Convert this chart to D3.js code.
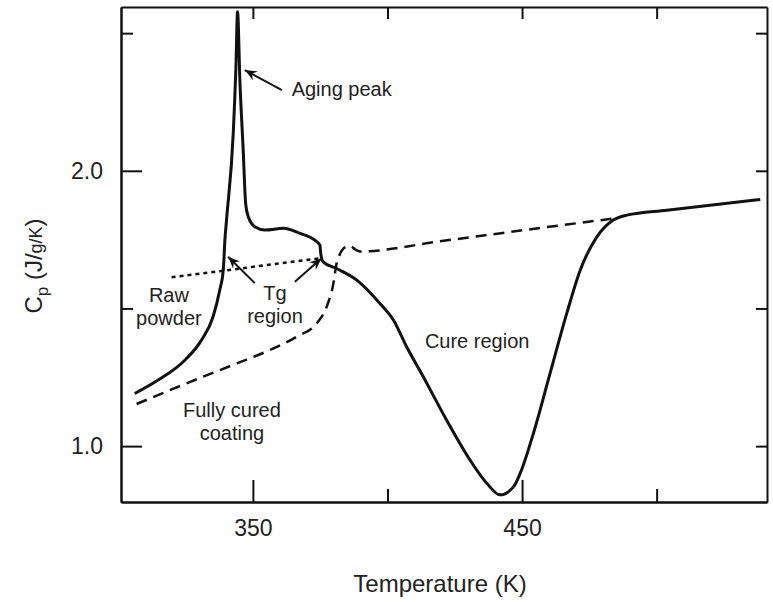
<!DOCTYPE html>
<html>
<head>
<meta charset="utf-8">
<script src="https://cdn.jsdelivr.net/npm/d3@7"></script>
<style>
  body { margin: 0; background: #fff; }
  text { font-family: "Liberation Sans", Arial, Helvetica, sans-serif; fill: #222; }
</style>
</head>
<body>
<svg id="chart" width="773" height="602"></svg>
<script>
// Heat capacity scan of a powder coating: raw powder vs. fully cured film
const rawT  = [306.1, 314.8, 324.7, 330.9, 335.2, 337.7, 339.0, 339.6, 340.2, 342.7, 343.7, 344.3,
               345.2, 346.4, 347.3, 348.3, 350.7, 354.5, 361.3, 367.5, 373.0, 374.9, 375.2, 376.1,
               381.1, 388.6, 397.2, 402.2, 407.1, 413.3, 422.0, 430.7, 436.9, 441.8, 446.8, 449.3,
               454.2, 460.4, 466.6, 471.6, 477.8, 483.9, 488.9, 503.8, 538.5];
const rawCp = [1.191, 1.240, 1.312, 1.385, 1.470, 1.567, 1.639, 1.748, 1.821, 2.137, 2.378, 2.578,
               2.319, 2.075, 1.883, 1.833, 1.797, 1.785, 1.791, 1.773, 1.748, 1.730, 1.700, 1.669,
               1.645, 1.603, 1.518, 1.458, 1.361, 1.252, 1.094, 0.949, 0.865, 0.823, 0.852, 0.901,
               1.046, 1.264, 1.482, 1.639, 1.760, 1.821, 1.839, 1.857, 1.896];

const curedT  = [306.8, 319.1, 331.5, 343.9, 356.3, 366.2, 373.7, 377.4, 379.9, 381.1, 382.3, 384.2,
                 386.1, 387.9, 389.8, 419.5, 451.7, 483.5];
const curedCp = [1.153, 1.203, 1.252, 1.300, 1.349, 1.397, 1.446, 1.506, 1.591, 1.664, 1.697, 1.722,
                 1.727, 1.715, 1.707, 1.744, 1.786, 1.826];

// Glassy baseline extrapolated through the Tg region of the raw powder
const glassT  = [319.8, 375.3];
const glassCp = [1.613, 1.683];

const xMajorTicks = [350, 450];
const xMinorTicks = [400, 500];
const yMajorTicks = [1.0, 2.0];
const yMinorTicks = [1.5, 2.5];

const xTitle = "Temperature (K)";

// Annotations: text lines, T and Cp of the first baseline, anchor
const notes = [
  { lines: ["Aging peak"], T: 364.4, cp: 2.271, anchor: "start" },
  { lines: ["Raw", "powder"], T: 318.8, cp: 1.524, anchor: "middle" },
  { lines: ["Tg", "region"], T: 358.2, cp: 1.530, anchor: "middle" },
  { lines: ["Fully cured", "coating"], T: 342.2, cp: 1.106, anchor: "middle" },
  { lines: ["Cure region"], T: 413.9, cp: 1.355, anchor: "start" }
];
// Arrows: from (T, Cp) tail to (T, Cp) tip
const arrows = [
  { from: [360.8, 2.293], to: [347.0, 2.366] },
  { from: [350.7, 1.592], to: [340.8, 1.688] },
  { from: [365.6, 1.597], to: [375.5, 1.682] }
];

const svg = d3.select("#chart");
const pLeft = 121, pRight = 767, pTop = 7, pBottom = 502;

const x = d3.scaleLinear().domain([301, 541]).range([pLeft, pRight]);
const y = d3.scaleLinear().domain([0.797, 2.595]).range([pBottom, pTop]);

// Axes (ticks point inward, frame on all four sides)
function styleAxis(g) {
  g.selectAll("path.domain").attr("stroke", "#111").attr("stroke-width", 2);
  g.selectAll(".tick line").attr("stroke", "#111").attr("stroke-width", 2);
  g.selectAll(".tick text").style("font-size", "23px").attr("fill", "#222")
    .style("font-family", "'Liberation Sans', Arial, Helvetica, sans-serif");
}

svg.append("g").attr("transform", `translate(0,${pBottom})`)
  .call(d3.axisBottom(x).tickValues(xMajorTicks).tickSize(-22).tickSizeOuter(0).tickPadding(18).tickFormat(d3.format("d")))
  .call(styleAxis);
svg.append("g").attr("transform", `translate(0,${pBottom})`)
  .call(d3.axisBottom(x).tickValues(xMinorTicks).tickSize(-13).tickSizeOuter(0).tickFormat(""))
  .call(styleAxis);
svg.append("g").attr("transform", `translate(0,${pTop})`)
  .call(d3.axisTop(x).tickValues(xMajorTicks.concat(xMinorTicks)).tickSize(-12).tickSizeOuter(0).tickFormat(""))
  .call(styleAxis);

svg.append("g").attr("transform", `translate(${pLeft},0)`)
  .call(d3.axisLeft(y).tickValues(yMajorTicks).tickSize(-21).tickSizeOuter(0).tickPadding(18).tickFormat(d3.format(".1f")))
  .call(styleAxis);
svg.append("g").attr("transform", `translate(${pLeft},0)`)
  .call(d3.axisLeft(y).tickValues(yMinorTicks).tickSize(-12).tickSizeOuter(0).tickFormat(""))
  .call(styleAxis);
svg.append("g").attr("transform", `translate(${pRight},0)`)
  .call(d3.axisRight(y).tickValues(yMajorTicks.concat(yMinorTicks)).tickSize(-11).tickSizeOuter(0).tickFormat(""))
  .call(styleAxis);

// Axis titles
svg.append("text")
  .attr("x", 440).attr("y", 592)
  .attr("text-anchor", "middle").style("font-size", "24px")
  .text(xTitle);

const yLab = svg.append("text")
  .attr("transform", `translate(42,266) rotate(-90)`)
  .attr("text-anchor", "middle").style("font-size", "24px");
yLab.append("tspan").text("C");
yLab.append("tspan").attr("dy", 6).style("font-size", "17px").text("p");
yLab.append("tspan").attr("dy", -6).text(" (J/");
yLab.append("tspan").style("font-size", "18px").text("g/K");
yLab.append("tspan").text(")");

// Curves
const line = d3.line().x(d => x(d[0])).y(d => y(d[1])).curve(d3.curveMonotoneX);
const zip = (a, b) => a.map((v, i) => [v, b[i]]);

const plot = svg.append("g");
plot.append("path").datum(zip(glassT, glassCp))
  .attr("d", line).attr("fill", "none").attr("stroke", "#111")
  .attr("stroke-width", 2.5).attr("stroke-dasharray", "4,4");
plot.append("path").datum(zip(curedT, curedCp))
  .attr("d", line).attr("fill", "none").attr("stroke", "#111")
  .attr("stroke-width", 2.5).attr("stroke-dasharray", "11,7");
plot.append("path").datum(zip(rawT, rawCp))
  .attr("d", line).attr("fill", "none").attr("stroke", "#111")
  .attr("stroke-width", 3).attr("stroke-linejoin", "round");

// Arrowhead marker
svg.append("defs").append("marker")
  .attr("id", "head").attr("viewBox", "-12 -6 14 12")
  .attr("refX", 0).attr("refY", 0)
  .attr("markerWidth", 14).attr("markerHeight", 12)
  .attr("markerUnits", "userSpaceOnUse").attr("orient", "auto")
  .append("path").attr("d", "M0,0 L-12,-5 L-8,0 L-12,5 Z").attr("fill", "#111");

plot.selectAll("line.arrow").data(arrows).join("line")
  .attr("class", "arrow")
  .attr("x1", d => x(d.from[0])).attr("y1", d => y(d.from[1]))
  .attr("x2", d => x(d.to[0])).attr("y2", d => y(d.to[1]))
  .attr("stroke", "#111").attr("stroke-width", 2)
  .attr("marker-end", "url(#head)");

// Annotation text
notes.forEach(n => {
  const t = svg.append("text")
    .attr("x", x(n.T)).attr("y", y(n.cp))
    .attr("text-anchor", n.anchor).style("font-size", "20px");
  n.lines.forEach((s, i) => {
    t.append("tspan").attr("x", x(n.T)).attr("dy", i === 0 ? 0 : 23).text(s);
  });
});
</script>
</body>
</html>
